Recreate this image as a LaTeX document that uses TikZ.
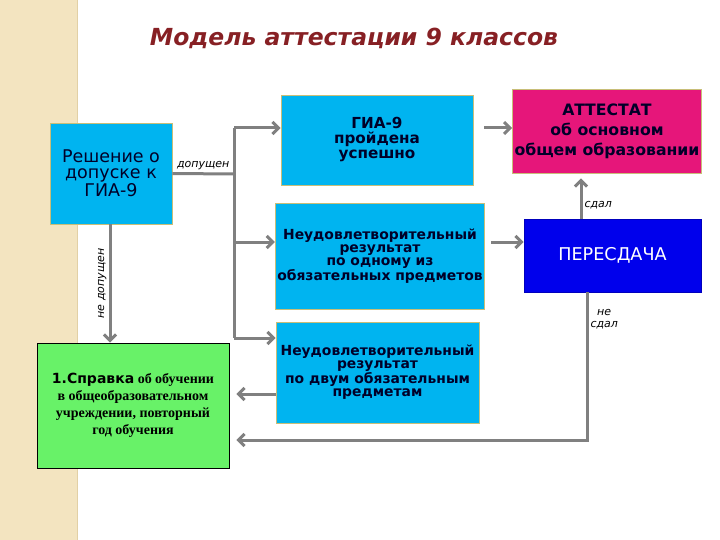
\documentclass[tikz,border=0pt]{standalone}
\usepackage{fontspec}
\setmainfont{DejaVu Sans}
\newfontfamily\spravfont{Liberation Serif}
\newfontfamily\spravsans{DejaVu Sans}
\usetikzlibrary{arrows.meta, positioning, calc}

\definecolor{gianblue}{RGB}{0,180,240}
\definecolor{attpink}{RGB}{230,22,122}
\definecolor{resblue}{RGB}{0,0,236}
\definecolor{spravgreen}{RGB}{104,242,104}
\definecolor{titlered}{RGB}{135,32,36}
\definecolor{boxtext}{RGB}{0,0,40}
\definecolor{boxedge}{RGB}{200,190,120}
\definecolor{connector}{RGB}{128,128,128}
\definecolor{bandfill}{RGB}{243,228,192}
\definecolor{bandedge}{RGB}{226,208,165}

\begin{document}
\begin{tikzpicture}[x=1pt, y=-1pt,
        cyanbox/.style={rectangle, draw=boxedge, line width=0.8pt, fill=gianblue, align=center, text=boxtext, inner sep=2pt},
        pinkbox/.style={rectangle, draw=boxedge, line width=0.8pt, fill=attpink, align=center, text=boxtext, inner sep=2pt},
        retakebox/.style={rectangle, draw=resblue!80!black, line width=0.8pt, fill=resblue, align=center, text=white, inner sep=2pt},
        greenbox/.style={rectangle, draw=black, line width=0.8pt, fill=spravgreen, align=center, text=black, inner sep=2pt},
        line/.style={line width=3pt, draw=connector},
        arrow/.style={line, -{Straight Barb[length=6pt, width=12pt]}},
        lbl/.style={font=\fontsize{11}{12}\selectfont\itshape, inner sep=2pt}
    ]
        \useasboundingbox (0,0) rectangle (720,540);

        % ----------------------------------------------------
        % BACKGROUND BAND + TITLE
        % ----------------------------------------------------
        \fill[bandfill] (0,0) rectangle (78,540);
        \draw[bandedge, line width=1.2pt] (77.5,0) -- (77.5,540);

        \node[text=titlered, font=\fontsize{23.5}{26}\selectfont\bfseries\itshape] (title) at (354,38) {Модель аттестации 9 классов};

        % ----------------------------------------------------
        % BOXES
        % ----------------------------------------------------
        \node[cyanbox, minimum width=122, minimum height=101, font=\fontsize{17.5}{16}\selectfont] (resh) at (111,173.5) {Решение о\\допуске к\\ГИА-9};

        \node[cyanbox, minimum width=192, minimum height=90, font=\fontsize{15.2}{15}\selectfont\bfseries] (gia) at (377,140) {ГИА-9\\пройдена\\успешно};
        \node[pinkbox, minimum width=186, minimum height=84, font=\fontsize{15.7}{20}\selectfont\bfseries] (att) at (607,131) {АТТЕСТАТ\\об основном\\общем образовании};

        \node[cyanbox, minimum width=208, minimum height=106, font=\fontsize{13.9}{12.7}\selectfont\bfseries] (neud1) at (380,256) {Неудовлетворительный\\результат\\по одному из\\обязательных предметов};
        \node[retakebox, minimum width=177, minimum height=73, font=\fontsize{17.6}{18}\selectfont] (pers) at (612.5,255.5) {ПЕРЕСДАЧА};

        \node[cyanbox, minimum width=203, minimum height=101, font=\fontsize{13.9}{13}\selectfont\bfseries] (neud2) at (377.5,372.5) {Неудовлетворительный\\результат\\по двум обязательным\\предметам};

        \node[greenbox, minimum width=192, minimum height=125, font=\fontsize{14}{17}\selectfont\bfseries\spravfont] (sprav) at (133,405.5) {{\fontsize{14}{17}\selectfont\spravsans\bfseries 1.Справка} об обучении\\в общеобразовательном\\учреждении, повторный\\год обучения};

        % ----------------------------------------------------
        % CONNECTORS
        % ----------------------------------------------------
        \coordinate (split) at (234,174);
        \coordinate (t1) at (234,128);
        \coordinate (t2) at (234,242);
        \coordinate (t3) at (234,338);
        \coordinate (up) at (581,0);
        \coordinate (back) at (587,440);

        % Admission split
        \draw[line] (resh.east) -- (split) node[midway, above, lbl] {допущен};
        \draw[line] (t1) -- (t3);
        \draw[arrow] (t1) -- (gia.west |- t1);
        \draw[arrow] (t2) -- (neud1.west |- t2);
        \draw[arrow] (t3) -- (neud2.west |- t3);

        % Not admitted
        \draw[arrow] ([xshift=-1pt]resh.south) -- ([xshift=-1pt]resh.south |- sprav.north) node[midway, rotate=90, anchor=south, lbl] {не допущен};

        % Results
        \draw[arrow, shorten <=11pt] (gia.east |- t1) -- (att.west |- t1);
        \draw[arrow, shorten <=6pt] (neud1.east |- t2) -- (pers.west |- t2);
        \draw[arrow, shorten >=5pt] (pers.north -| up) -- (att.south -| up) node[pos=0.3, right, lbl] {сдал};
        \draw[arrow, shorten >=7pt] (pers.south -| back) |- (sprav.east |- back) node[pos=0.09, right, lbl, align=center] {не\\сдал};
        \draw[arrow, shorten >=7pt] ([yshift=-21.5pt]neud2.west) -- ([yshift=-21.5pt]neud2.west -| sprav.east);

    \end{tikzpicture}
\end{document}
